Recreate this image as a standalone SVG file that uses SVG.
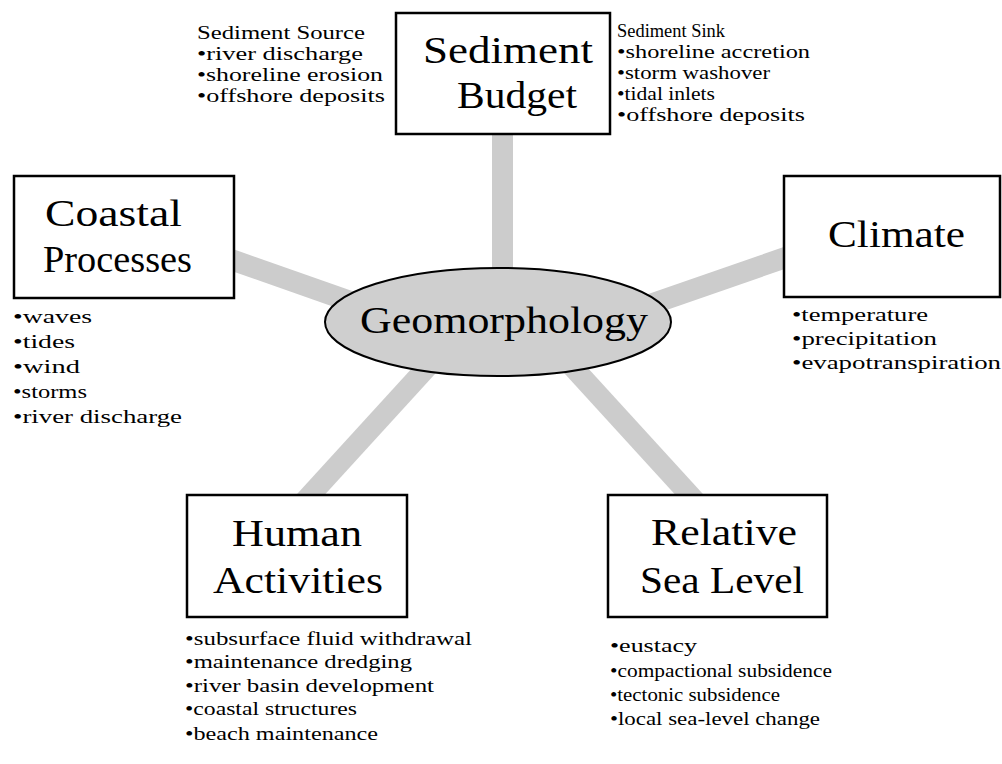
<svg xmlns="http://www.w3.org/2000/svg" width="1002" height="764" viewBox="0 0 1002 764">
<style>
.bg{fill:#ffffff}
.conn{stroke:#cccccc;stroke-width:21;fill:none;stroke-linecap:butt}
.box{fill:#ffffff;stroke:#000000;stroke-width:2.5}
.ell{fill:#cfcfcf;stroke:#000000;stroke-width:2}
.big{font-family:"Liberation Serif","Times New Roman",serif;font-size:38px;fill:#000}
.sm{font-family:"Liberation Serif","Times New Roman",serif;font-size:18px;fill:#000}
</style>
<rect class="bg" x="0" y="0" width="1002" height="764"/>
<g id="connectors">
<line class="conn" x1="502.5" y1="130" x2="502.5" y2="300"/>
<line class="conn" x1="228" y1="258.5" x2="400" y2="319"/>
<line class="conn" x1="790" y1="256" x2="620" y2="315"/>
<line class="conn" x1="303" y1="503" x2="440" y2="353"/>
<line class="conn" x1="697" y1="503" x2="560" y2="353"/>
</g>
<g id="geomorphology">
<ellipse class="ell" cx="498" cy="322" rx="173" ry="54"/>
<text class="big" x="360" y="333" textLength="288" lengthAdjust="spacingAndGlyphs">Geomorphology</text>
</g>
<g id="sediment-budget">
<rect class="box" x="396" y="13" width="214" height="121"/>
<text class="big" x="423" y="63" textLength="170" lengthAdjust="spacingAndGlyphs">Sediment</text>
<text class="big" x="457" y="108" textLength="120" lengthAdjust="spacingAndGlyphs">Budget</text>
</g>
<g id="sediment-source">
<text class="sm" x="197" y="39" textLength="168" lengthAdjust="spacingAndGlyphs">Sediment Source</text>
<text class="sm" x="197" y="60" textLength="166" lengthAdjust="spacingAndGlyphs">•river discharge</text>
<text class="sm" x="197" y="81" textLength="186" lengthAdjust="spacingAndGlyphs">•shoreline erosion</text>
<text class="sm" x="197" y="102" textLength="188" lengthAdjust="spacingAndGlyphs">•offshore deposits</text>
</g>
<g id="sediment-sink">
<text class="sm" x="617" y="37" textLength="108" lengthAdjust="spacingAndGlyphs">Sediment Sink</text>
<text class="sm" x="617" y="58" textLength="193" lengthAdjust="spacingAndGlyphs">•shoreline accretion</text>
<text class="sm" x="617" y="79" textLength="153" lengthAdjust="spacingAndGlyphs">•storm washover</text>
<text class="sm" x="617" y="100" textLength="98" lengthAdjust="spacingAndGlyphs">•tidal inlets</text>
<text class="sm" x="617" y="121" textLength="188" lengthAdjust="spacingAndGlyphs">•offshore deposits</text>
</g>
<g id="coastal-processes">
<rect class="box" x="14" y="176" width="220" height="122"/>
<text class="big" x="45" y="226" textLength="137" lengthAdjust="spacingAndGlyphs">Coastal</text>
<text class="big" x="43" y="272" textLength="149" lengthAdjust="spacingAndGlyphs">Processes</text>
<text class="sm" x="13" y="323" textLength="79" lengthAdjust="spacingAndGlyphs">•waves</text>
<text class="sm" x="13" y="348" textLength="62" lengthAdjust="spacingAndGlyphs">•tides</text>
<text class="sm" x="13" y="373" textLength="67" lengthAdjust="spacingAndGlyphs">•wind</text>
<text class="sm" x="13" y="398" textLength="74" lengthAdjust="spacingAndGlyphs">•storms</text>
<text class="sm" x="13" y="423" textLength="169" lengthAdjust="spacingAndGlyphs">•river discharge</text>
</g>
<g id="climate">
<rect class="box" x="784" y="176" width="216" height="121"/>
<text class="big" x="828" y="247" textLength="137" lengthAdjust="spacingAndGlyphs">Climate</text>
<text class="sm" x="792" y="321" textLength="136" lengthAdjust="spacingAndGlyphs">•temperature</text>
<text class="sm" x="792" y="345" textLength="145" lengthAdjust="spacingAndGlyphs">•precipitation</text>
<text class="sm" x="792" y="369" textLength="209" lengthAdjust="spacingAndGlyphs">•evapotranspiration</text>
</g>
<g id="human-activities">
<rect class="box" x="187" y="495" width="220" height="122"/>
<text class="big" x="232" y="546" textLength="130" lengthAdjust="spacingAndGlyphs">Human</text>
<text class="big" x="213" y="593" textLength="170" lengthAdjust="spacingAndGlyphs">Activities</text>
<text class="sm" x="185" y="645" textLength="287" lengthAdjust="spacingAndGlyphs">•subsurface fluid withdrawal</text>
<text class="sm" x="185" y="668" textLength="227" lengthAdjust="spacingAndGlyphs">•maintenance dredging</text>
<text class="sm" x="185" y="692" textLength="249" lengthAdjust="spacingAndGlyphs">•river basin development</text>
<text class="sm" x="185" y="715" textLength="172" lengthAdjust="spacingAndGlyphs">•coastal structures</text>
<text class="sm" x="185" y="740" textLength="193" lengthAdjust="spacingAndGlyphs">•beach maintenance</text>
</g>
<g id="relative-sea-level">
<rect class="box" x="608" y="495" width="219" height="122"/>
<text class="big" x="651" y="545" textLength="146" lengthAdjust="spacingAndGlyphs">Relative</text>
<text class="big" x="640" y="593" textLength="164" lengthAdjust="spacingAndGlyphs">Sea Level</text>
<text class="sm" x="610" y="652" textLength="87" lengthAdjust="spacingAndGlyphs">•eustacy</text>
<text class="sm" x="610" y="677" textLength="222" lengthAdjust="spacingAndGlyphs">•compactional subsidence</text>
<text class="sm" x="610" y="701" textLength="170" lengthAdjust="spacingAndGlyphs">•tectonic subsidence</text>
<text class="sm" x="610" y="725" textLength="210" lengthAdjust="spacingAndGlyphs">•local sea-level change</text>
</g>
</svg>
